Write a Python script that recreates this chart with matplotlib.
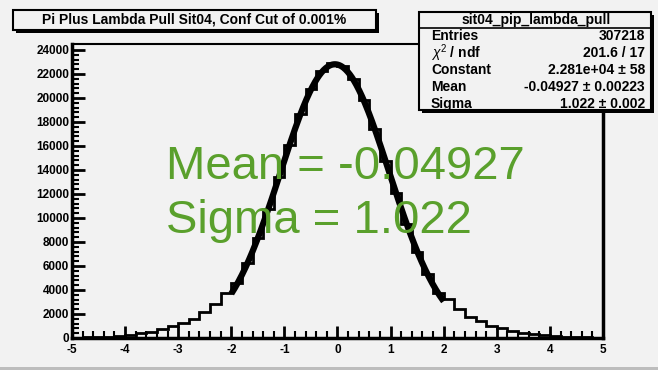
import numpy as np
from matplotlib import pyplot as plt
from matplotlib.patches import Rectangle

W, H = 658, 370

# histogram bins (-5..5, width 0.2)
edges = np.linspace(-5, 5, 51)
left_tail = [30, 45, 70, 110, 170, 260, 380, 520, 720, 960, 1250, 1620, 2200, 2850, 3720]
core = [4550, 6250, 8300, 10750, 13400, 16100, 18650, 20750, 22250, 22950,
        22700, 21600, 19800, 17400, 14750, 12050, 9500, 7200, 5300, 3750]
right_tail = [3250, 2420, 1790, 1380, 1000, 800, 600, 440, 310, 220, 150, 100, 70, 45, 30]
counts = np.array(left_tail + core + right_tail)

# fit results (from stats box)
fit_const = 2.281e4
fit_mean = -0.04927
fit_sigma = 1.022
fit_range = (-2.0, 2.0)

title = 'Pi Plus Lambda Pull Sit04, Conf Cut of 0.001%'
stats_name = 'sit04_pip_lambda_pull'
stats_rows = [('Entries', '307218'),
              (r'$\chi^2$ / ndf', '201.6 / 17'),
              ('Constant', '2.281e+04 ± 58'),
              ('Mean', '-0.04927 ± 0.00223'),
              ('Sigma', '1.022 ± 0.002')]

plt.rcParams['font.family'] = ['Liberation Sans', 'DejaVu Sans']
plt.rcParams['mathtext.fontset'] = 'custom'
plt.rcParams['mathtext.rm'] = 'Liberation Sans'
plt.rcParams['mathtext.it'] = 'Liberation Sans:italic'
plt.rcParams['axes.unicode_minus'] = False

bg = '#f2f2f2'
fig = plt.figure(figsize=(W / 100, H / 100), dpi=100, facecolor=bg)

def fx(px):
    return px / W

def fy(py):
    return 1 - py / H

# bottom gray band
fig.patches.append(Rectangle((0, 0), 1, 3 / H, transform=fig.transFigure,
                             facecolor='#bdbdbd', edgecolor='none'))

ax = fig.add_axes([fx(72), fy(338), fx(603) - fx(72), fy(44) - fy(338)])
ax.set_facecolor(bg)

ax.stairs(counts, edges, color='black', lw=2)
xf = np.linspace(fit_range[0], fit_range[1], 300)
yf = fit_const * np.exp(-0.5 * ((xf - fit_mean) / fit_sigma) ** 2)
ax.plot(xf, yf, color='black', lw=4.5, solid_capstyle='butt')

ax.set_xlim(-5, 5)
ax.set_ylim(0, 24500)
ax.set_xticks(np.arange(-5, 6, 1))
ax.set_xticks(np.arange(-5, 5.01, 0.2), minor=True)
ax.set_yticks(np.arange(0, 24001, 2000))
ax.set_yticks(np.arange(0, 24001, 400), minor=True)
ax.tick_params(which='both', direction='in', top=False, right=False)
ax.tick_params(which='major', length=9, width=2, labelsize=8.5, pad=2)
ax.tick_params(axis='x', which='major', pad=4)
ax.tick_params(which='minor', length=5, width=1.5)
for lab in ax.get_xticklabels() + ax.get_yticklabels():
    lab.set_fontweight('bold')
for s in ax.spines.values():
    s.set_linewidth(2.5)
ax.spines['top'].set_linewidth(1.5)

def shadow_box(x0, y0, x1, y1, sh=3):
    fig.patches.append(Rectangle((fx(x0 + sh), fy(y1 + sh)), fx(x1 - x0), fy(y0) - fy(y1),
                                 transform=fig.transFigure, facecolor='black', edgecolor='none'))
    fig.patches.append(Rectangle((fx(x0), fy(y1)), fx(x1 - x0), fy(y0) - fy(y1),
                                 transform=fig.transFigure, facecolor=bg, edgecolor='black', lw=1.5))

# title box
shadow_box(13, 10, 376, 30)
fig.text(fx(194), fy(20), title, ha='center', va='center', fontsize=10, fontweight='bold')

# stats box
shadow_box(419, 12, 651, 110)
fig.add_artist(plt.Line2D([fx(419), fx(651)], [fy(28), fy(28)], transform=fig.transFigure,
                          color='black', lw=1.2))
fig.text(fx(536), fy(20), stats_name, ha='center', va='center', fontsize=10, fontweight='bold')
for i, (k, v) in enumerate(stats_rows):
    yy = fy(36 + 17 * i)
    fig.text(fx(431), yy, k, ha='left', va='center', fontsize=10, fontweight='bold')
    fig.text(fx(645), yy, v, ha='right', va='center', fontsize=10, fontweight='bold')

# big green annotation
green = '#5aa02c'
fig.text(fx(166), fy(179), 'Mean = -0.04927', ha='left', va='baseline', fontsize=34, color=green)
fig.text(fx(166), fy(233), 'Sigma = 1.022', ha='left', va='baseline', fontsize=34, color=green)

fig.savefig('out.png', dpi=100, facecolor=bg)
